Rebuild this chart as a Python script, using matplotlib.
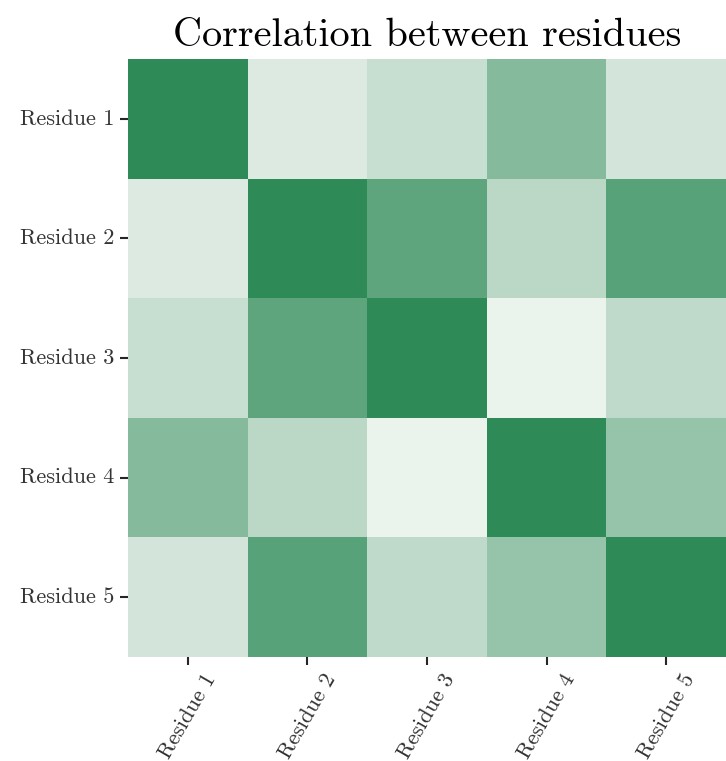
import numpy as np
import matplotlib
matplotlib.use("Agg")
import matplotlib.pyplot as plt
import seaborn as sns

labels = ["Residue 1", "Residue 2", "Residue 3", "Residue 4", "Residue 5"]
corr = [
    [1.00, 0.10, 0.21, 0.55, 0.15],
    [0.10, 1.00, 0.75, 0.27, 0.78],
    [0.21, 0.75, 1.00, 0.02, 0.25],
    [0.55, 0.27, 0.02, 1.00, 0.46],
    [0.15, 0.78, 0.25, 0.46, 1.00],
]

sns.set_style("ticks")
plt.rcParams["font.family"] = ["cmr10", "DejaVu Serif"]
plt.rcParams["axes.unicode_minus"] = False

fig = plt.figure(figsize=(7.26, 7.61), dpi=100)
ax = fig.add_axes([128 / 726, 104 / 761, 598 / 726, 598 / 761])
cmap = sns.light_palette("seagreen", as_cmap=True)
sns.heatmap(np.array(corr), cmap=cmap, cbar=False, ax=ax,
            xticklabels=labels, yticklabels=labels, square=False)
ax.set_title("Correlation between residues", fontsize=29, pad=9, color="black")
ax.tick_params(axis="both", length=6, width=1.5, color="0.15", labelcolor="0.2",
               labelsize=16, pad=3.5)
plt.setp(ax.get_xticklabels(), rotation=60, ha="center")
plt.setp(ax.get_yticklabels(), rotation=0)
sns.despine(ax=ax, left=True, bottom=True)
fig.savefig("out.png", dpi=100)
